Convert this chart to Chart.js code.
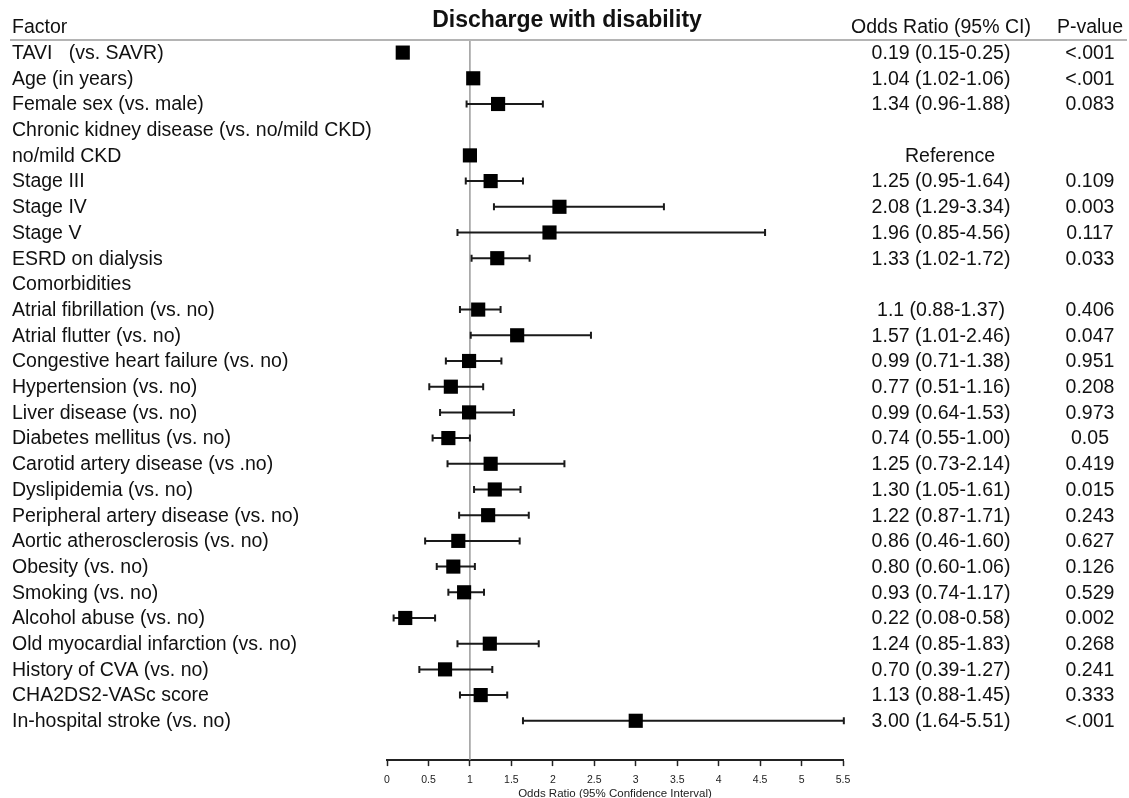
<!DOCTYPE html>
<html>
<head>
<meta charset="utf-8">
<script src="https://cdn.jsdelivr.net/npm/chart.js@4/dist/chart.umd.min.js"></script>
<style>
  html, body { margin: 0; padding: 0; background: #fff; }
  canvas { display: block; }
</style>
</head>
<body>
<canvas id="forest" width="1129" height="798"></canvas>
<script>
// rows, top to bottom
var factors = [
  'TAVI   (vs. SAVR)', 'Age (in years)', 'Female sex (vs. male)',
  'Chronic kidney disease (vs. no/mild CKD)', 'no/mild CKD', 'Stage III', 'Stage IV', 'Stage V',
  'ESRD on dialysis', 'Comorbidities', 'Atrial fibrillation (vs. no)', 'Atrial flutter (vs. no)',
  'Congestive heart failure (vs. no)', 'Hypertension (vs. no)', 'Liver disease (vs. no)',
  'Diabetes mellitus (vs. no)', 'Carotid artery disease (vs .no)', 'Dyslipidemia (vs. no)',
  'Peripheral artery disease (vs. no)', 'Aortic atherosclerosis (vs. no)', 'Obesity (vs. no)',
  'Smoking (vs. no)', 'Alcohol abuse (vs. no)', 'Old myocardial infarction (vs. no)',
  'History of CVA (vs. no)', 'CHA2DS2-VASc score', 'In-hospital stroke (vs. no)'
];
var oddsRatio = [0.19, 1.04, 1.34, null, 1, 1.25, 2.08, 1.96, 1.33, null, 1.1, 1.57, 0.99, 0.77, 0.99,
  0.74, 1.25, 1.30, 1.22, 0.86, 0.80, 0.93, 0.22, 1.24, 0.70, 1.13, 3.00];
var ciLow = [0.15, 1.02, 0.96, null, null, 0.95, 1.29, 0.85, 1.02, null, 0.88, 1.01, 0.71, 0.51, 0.64,
  0.55, 0.73, 1.05, 0.87, 0.46, 0.60, 0.74, 0.08, 0.85, 0.39, 0.88, 1.64];
var ciHigh = [0.25, 1.06, 1.88, null, null, 1.64, 3.34, 4.56, 1.72, null, 1.37, 2.46, 1.38, 1.16, 1.53,
  1.00, 2.14, 1.61, 1.71, 1.60, 1.06, 1.17, 0.58, 1.83, 1.27, 1.45, 5.51];
var orLabels = ['0.19 (0.15-0.25)', '1.04 (1.02-1.06)', '1.34 (0.96-1.88)', '', 'Reference',
  '1.25 (0.95-1.64)', '2.08 (1.29-3.34)', '1.96 (0.85-4.56)', '1.33 (1.02-1.72)', '',
  '1.1 (0.88-1.37)', '1.57 (1.01-2.46)', '0.99 (0.71-1.38)', '0.77 (0.51-1.16)', '0.99 (0.64-1.53)',
  '0.74 (0.55-1.00)', '1.25 (0.73-2.14)', '1.30 (1.05-1.61)', '1.22 (0.87-1.71)', '0.86 (0.46-1.60)',
  '0.80 (0.60-1.06)', '0.93 (0.74-1.17)', '0.22 (0.08-0.58)', '1.24 (0.85-1.83)', '0.70 (0.39-1.27)',
  '1.13 (0.88-1.45)', '3.00 (1.64-5.51)'];
var pValues = ['<.001', '<.001', '0.083', '', '', '0.109', '0.003', '0.117', '0.033', '',
  '0.406', '0.047', '0.951', '0.208', '0.973', '0.05', '0.419', '0.015', '0.243', '0.627',
  '0.126', '0.529', '0.002', '0.268', '0.241', '0.333', '<.001'];
var xTicksMax = 5.5;

var FONT = '"Liberation Sans", Arial, Helvetica, sans-serif';

var points = [];
for (var i = 0; i < factors.length; i++) {
  if (oddsRatio[i] != null) points.push({ x: oddsRatio[i], y: i });
}

var forestPlugin = {
  id: 'forest',
  beforeDatasetsDraw: function (chart) {
    var ctx = chart.ctx, xs = chart.scales.x, ys = chart.scales.y, area = chart.chartArea;
    ctx.save();
    // line of no effect
    ctx.strokeStyle = '#9a9a9a';
    ctx.lineWidth = 1.5;
    ctx.beginPath();
    ctx.moveTo(xs.getPixelForValue(1), area.top);
    ctx.lineTo(xs.getPixelForValue(1), area.bottom);
    ctx.stroke();
    // confidence intervals
    ctx.strokeStyle = '#1a1a1a';
    ctx.lineWidth = 2;
    for (var i = 0; i < factors.length; i++) {
      if (ciLow[i] == null) continue;
      var y = ys.getPixelForValue(i);
      var x1 = xs.getPixelForValue(ciLow[i]), x2 = xs.getPixelForValue(ciHigh[i]);
      ctx.beginPath();
      ctx.moveTo(x1, y); ctx.lineTo(x2, y);
      ctx.moveTo(x1, y - 3.5); ctx.lineTo(x1, y + 3.5);
      ctx.moveTo(x2, y - 3.5); ctx.lineTo(x2, y + 3.5);
      ctx.stroke();
    }
    ctx.restore();
  },
  afterDraw: function (chart) {
    var ctx = chart.ctx, ys = chart.scales.y, area = chart.chartArea;
    ctx.save();
    // header rule
    ctx.strokeStyle = '#b4b4b4';
    ctx.lineWidth = 2;
    ctx.beginPath();
    ctx.moveTo(10, area.top);
    ctx.lineTo(1127, area.top);
    ctx.stroke();

    ctx.fillStyle = '#111';
    ctx.textBaseline = 'middle';
    ctx.font = '19.5px ' + FONT;
    ctx.textAlign = 'left';
    ctx.fillText('Factor', 12, 28);
    ctx.textAlign = 'center';
    ctx.fillText('Odds Ratio (95% CI)', 941, 28);
    ctx.fillText('P-value', 1090, 28);
    ctx.font = 'bold 23px ' + FONT;
    ctx.fillText('Discharge with disability', 567, 21);

    ctx.font = '19.5px ' + FONT;
    for (var i = 0; i < factors.length; i++) {
      var y = ys.getPixelForValue(i) + 1;
      ctx.textAlign = 'left';
      ctx.fillText(factors[i], 12, y);
      ctx.textAlign = 'center';
      if (orLabels[i]) ctx.fillText(orLabels[i], orLabels[i] === 'Reference' ? 950 : 941, y);
      if (pValues[i]) ctx.fillText(pValues[i], 1090, y);
    }
    ctx.restore();
  }
};

new Chart(document.getElementById('forest'), {
  type: 'scatter',
  data: {
    datasets: [{
      data: points,
      pointStyle: 'rect',
      pointRadius: 10,
      backgroundColor: '#000',
      borderColor: '#000',
      borderWidth: 0
    }]
  },
  options: {
    responsive: false,
    animation: false,
    events: [],
    layout: { autoPadding: false, padding: { left: 387, right: 286, top: 40, bottom: -2.5 } },
    plugins: { legend: { display: false }, tooltip: { enabled: false } },
    scales: {
      x: {
        type: 'linear',
        min: 0,
        max: xTicksMax,
        ticks: {
          stepSize: 0.5, autoSkip: false, maxRotation: 0, padding: 8, color: '#222',
          font: { size: 10.5, family: FONT },
          callback: function (v) { return String(v); }
        },
        grid: { drawOnChartArea: false, drawTicks: true, tickLength: 6, tickColor: '#222', tickWidth: 1.5 },
        border: { color: '#222', width: 2 },
        title: {
          display: true,
          text: 'Odds Ratio (95% Confidence Interval)',
          color: '#222',
          font: { size: 11.5, family: FONT },
          padding: { top: -8, bottom: 0 }
        }
      },
      y: { type: 'linear', reverse: true, min: -0.49, max: 27.53, display: false }
    }
  },
  plugins: [forestPlugin]
});
</script>
</body>
</html>
